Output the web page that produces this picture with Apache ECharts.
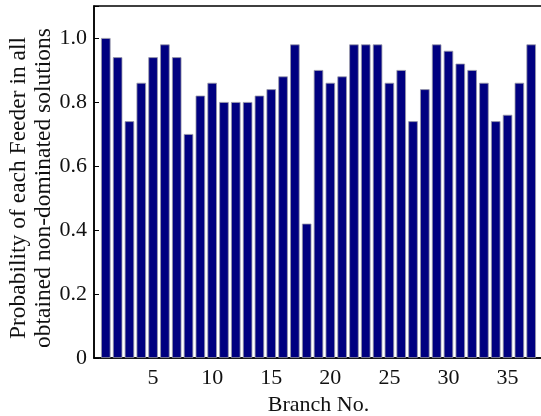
<!DOCTYPE html>
<html>
<head>
<meta charset="utf-8">
<script src="https://cdn.jsdelivr.net/npm/echarts@6/dist/echarts.min.js"></script>
<style>html,body{margin:0;padding:0;background:#fff;}#c{width:541px;height:416px;}</style>
</head>
<body>
<div id="c"></div>
<script>
var branches = [1,2,3,4,5,6,7,8,9,10,11,12,13,14,15,16,17,18,19,20,21,22,23,24,25,26,27,28,29,30,31,32,33,34,35,36,37];
var probability = [1.00,0.94,0.74,0.86,0.94,0.98,0.94,0.70,0.82,0.86,0.80,0.80,0.80,0.82,0.84,0.88,0.98,0.42,0.90,0.86,0.88,0.98,0.98,0.98,0.86,0.90,0.74,0.84,0.98,0.96,0.92,0.90,0.86,0.74,0.76,0.86,0.98];
var xTicks = [5,10,15,20,25,30,35];
var yTicks = [0,0.2,0.4,0.6,0.8,1.0];

var chart = echarts.init(document.getElementById('c'), null, {renderer:'canvas'});
var font = '"Liberation Serif", "Times New Roman", serif';
chart.setOption({
  animation:false,
  backgroundColor:'#fff',
  grid:{left:94, top:6, width:449, height:352, outerBoundsMode:'none', containLabel:false,
        show:true, borderColor:'#000', borderWidth:1.5, backgroundColor:'transparent'},
  xAxis:{
    type:'value', min:0, max:38, interval:5,
    name:'Branch No.', nameLocation:'middle', nameGap:36, nameMoveOverlap:false,
    nameTextStyle:{fontFamily:font, fontSize:22, color:'#111'},
    axisLine:{show:true, lineStyle:{color:'#000', width:1.5}},
    axisTick:{show:false},
    splitLine:{show:false},
    axisLabel:{fontFamily:font, fontSize:22, color:'#111', margin:9,
      formatter:function(v){return xTicks.indexOf(v)>=0 ? String(v) : '';}}
  },
  yAxis:{
    type:'value', min:0, max:1.1, interval:0.2,
    name:'Probability of each Feeder in all\nobtained non-dominated solutions',
    nameLocation:'middle', nameRotate:90, nameGap:38, nameMoveOverlap:false,
    nameTextStyle:{fontFamily:font, fontSize:23.5, color:'#111', lineHeight:25, padding:[0,12,0,0]},
    axisLine:{show:true, lineStyle:{color:'#000', width:1.5}},
    axisTick:{show:true, inside:true, length:5, lineStyle:{color:'#000'}},
    splitLine:{show:false},
    axisLabel:{fontFamily:font, fontSize:22, color:'#111', margin:7,
      formatter:function(v){
        for (var i=0;i<yTicks.length;i++){ if (Math.abs(yTicks[i]-v)<1e-6) return yTicks[i]===0?'0':yTicks[i].toFixed(1); }
        return '';
      }}
  },
  series:[{
    type:'bar',
    data:branches.map(function(b,i){return [b, probability[i]];}),
    barWidth:9.5,
    itemStyle:{color:'#000080', borderColor:'#9a9aa8', borderWidth:0.8}
  }]
});
</script>
</body>
</html>
